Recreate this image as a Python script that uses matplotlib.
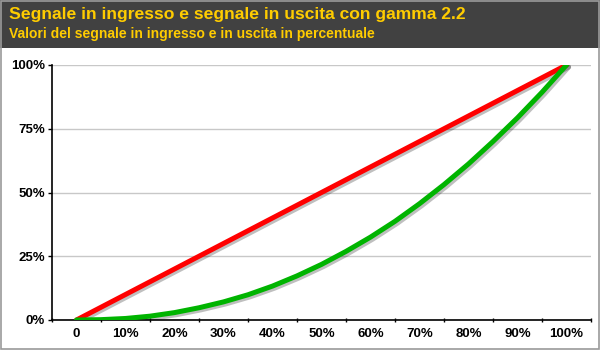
import matplotlib
matplotlib.use("Agg")
import matplotlib.pyplot as plt
import matplotlib.patheffects as pe
from matplotlib.patches import Rectangle
import numpy as np

plt.rcParams['font.family'] = ['Liberation Sans', 'DejaVu Sans']

categories = ["0", "10%", "20%", "30%", "40%", "50%", "60%", "70%", "80%", "90%", "100%"]
ingresso = [0, 10, 20, 30, 40, 50, 60, 70, 80, 90, 100]
# output signal read every 5% of input
livelli = [0, 5, 10, 15, 20, 25, 30, 35, 40, 45, 50, 55, 60, 65, 70, 75, 80, 85, 90, 95, 100]
uscita = [0, 0.14, 0.6, 1.5, 2.9, 4.8, 7.1, 9.9, 13.3, 17.3, 21.8,
          26.9, 32.5, 38.7, 45.6, 53.1, 61.2, 70.0, 79.3, 89.3, 100]
y_ticks = [0, 25, 50, 75, 100]
y_labels = ["0%", "25%", "50%", "75%", "100%"]

fig = plt.figure(figsize=(6, 3.5), dpi=100)
fig.patch.set_facecolor("white")

# header band and frame
fig.patches.append(Rectangle((0, 1 - 48 / 350), 1, 48 / 350, transform=fig.transFigure,
                             facecolor="#414141", edgecolor="none", zorder=0))
fig.patches.append(Rectangle((0.001, 0.002), 0.997, 0.996, transform=fig.transFigure,
                             facecolor="none", edgecolor="#9a9a9a", linewidth=1.2, zorder=5))
fig.text(9 / 600, 1 - 7 / 350, "Segnale in ingresso e segnale in uscita con gamma 2.2",
         color="#ffcc00", fontsize=12.6, fontweight="bold", va="top", ha="left")
fig.text(9 / 600, 1 - 27 / 350, "Valori del segnale in ingresso e in uscita in percentuale",
         color="#ffcc00", fontsize=10, fontweight="bold", va="top", ha="left")

ax = fig.add_axes([52 / 600, 1 - 320 / 350, 539 / 600, 255 / 350])
x = np.arange(len(categories))
xu = np.array(livelli) / 10
shadow = [pe.SimpleLineShadow(offset=(1.5, -1.5), alpha=0.25, shadow_color="black"), pe.Normal()]
ax.plot(x, ingresso, color="#ff0000", linewidth=3.6, solid_capstyle="round",
        path_effects=shadow, zorder=3)
ax.plot(xu, uscita, color="#00b400", linewidth=3.6, solid_capstyle="round",
        solid_joinstyle="round", path_effects=shadow, zorder=4)

ax.set_xlim(-0.5, len(categories) - 0.5)
ax.set_ylim(0, 100)
ax.set_xticks(x)
ax.set_xticklabels(categories)
ax.set_xticks(np.arange(-0.5, len(categories), 1), minor=True)
ax.tick_params(axis="x", which="major", length=0, pad=6, labelsize=9.5)
ax.tick_params(axis="x", which="minor", length=3, direction="inout", width=1)
ax.set_yticks(y_ticks)
ax.set_yticklabels(y_labels)
ax.tick_params(axis="y", length=3, width=1, pad=2, labelsize=9.5)
for lab in ax.get_xticklabels() + ax.get_yticklabels():
    lab.set_fontweight("bold")

ax.grid(axis="y", color="#c8c8c8", linewidth=1)
ax.set_axisbelow(True)
for s in ["top", "right"]:
    ax.spines[s].set_visible(False)
ax.spines["left"].set_linewidth(1.2)
ax.spines["bottom"].set_linewidth(1.2)
ax.spines["bottom"].set_zorder(2)

fig.savefig("out.png", dpi=100)
